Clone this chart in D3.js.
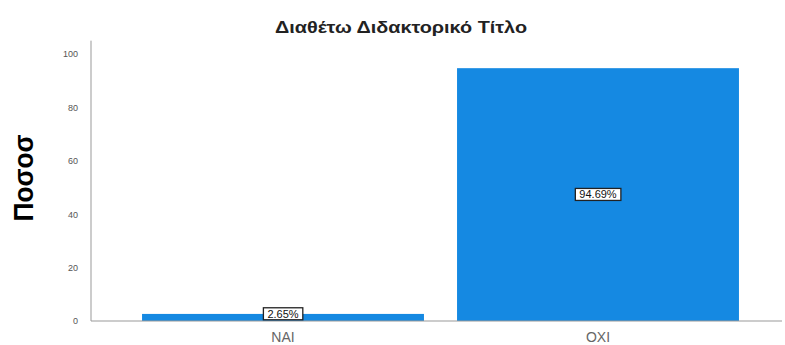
<!DOCTYPE html>
<html lang="en">

<head>
    <meta charset="utf-8">
    <title>Διαθέτω Διδακτορικό Τίτλο</title>
    <script type="text/javascript" src="https://d3js.org/d3.v7.min.js"></script>
    <style type="text/css">
        body {
            margin: 0;
            background: #fff;
        }

        svg text {
            font-family: "Liberation Sans", Arial, sans-serif;
        }
    </style>
</head>

<body>
    <svg width="785" height="345"></svg>
    <script type="text/javascript">
        //Chart data
        const categories = ['NAI', 'OXI']
        const values = [2.65, 94.69]
        const labels = ['2.65%', '94.69%']
        const yTicks = [0, 20, 40, 60, 80, 100]

        const svg = d3.select("svg");
        const barColor = '#1589e2';

        //Scales
        const xScale = d3.scaleBand()
            .domain(categories)
            .range([125.5, 755.5])
            .paddingInner(0.105)
            .paddingOuter(0.0525);

        const yScale = d3.scaleLinear()
            .domain([0, 100])
            .range([321, 54]);

        //Title
        svg.append('text')
            .attr('x', 401)
            .attr('y', 33)
            .attr('text-anchor', 'middle')
            .attr('textLength', 252)
            .attr('lengthAdjust', 'spacingAndGlyphs')
            .style('font-size', '16px')
            .style('font-weight', 'bold')
            .style('fill', '#222')
            .text('Διαθέτω Διδακτορικό Τίτλο');

        //Y axis title
        svg.append('text')
            .attr('transform', 'translate(33,178) rotate(-90)')
            .attr('text-anchor', 'middle')
            .attr('textLength', 87)
            .attr('lengthAdjust', 'spacingAndGlyphs')
            .style('font-size', '28px')
            .style('font-weight', 'bold')
            .style('fill', '#000')
            .text('Ποσοσ');

        //Y axis
        const leftAxis = d3.axisLeft(yScale)
            .tickValues(yTicks)
            .tickSize(0)
            .tickPadding(13);

        svg.append('g')
            .attr('transform', 'translate(91,0)')
            .call(leftAxis)
            .call(g => g.select('.domain').remove())
            .call(g => g.selectAll('.tick text')
                .style('font-size', '9px')
                .style('font-family', '"Liberation Sans", Arial, sans-serif')
                .style('fill', '#555'));

        svg.append('line')
            .attr('x1', 91).attr('x2', 91)
            .attr('y1', yScale(105)).attr('y2', yScale(0))
            .attr('stroke', '#999');

        //Bars
        svg.selectAll('rect.bar')
            .data(values)
            .enter()
            .append('rect')
            .attr('class', 'bar')
            .attr('x', (d, i) => xScale(categories[i]))
            .attr('y', d => yScale(d))
            .attr('width', xScale.bandwidth())
            .attr('height', d => yScale(0) - yScale(d))
            .style('fill', barColor);

        //X axis
        svg.append('line')
            .attr('x1', 91).attr('x2', 782)
            .attr('y1', yScale(0)).attr('y2', yScale(0))
            .attr('stroke', '#999');

        const bottomAxis = d3.axisBottom(xScale)
            .tickSize(0)
            .tickPadding(11);

        svg.append('g')
            .attr('transform', 'translate(0,' + yScale(0) + ')')
            .call(bottomAxis)
            .call(g => g.select('.domain').remove())
            .call(g => g.selectAll('.tick text')
                .style('font-size', '14px')
                .style('font-family', '"Liberation Sans", Arial, sans-serif')
                .style('fill', '#666'));

        //Boxed value labels (small bar: on its top, tall bar: in the middle)
        const labelGroups = svg.selectAll('g.vlabel')
            .data(values)
            .enter()
            .append('g')
            .attr('class', 'vlabel')
            .attr('transform', (d, i) => 'translate(' + (xScale(categories[i]) + xScale.bandwidth() / 2) + ','
                + (d < 10 ? yScale(d) : yScale(d / 2)) + ')');

        labelGroups.append('text')
            .attr('text-anchor', 'middle')
            .attr('dy', '0.35em')
            .style('font-size', '11px')
            .style('fill', '#111')
            .text((d, i) => labels[i]);

        labelGroups.each(function () {
            const g = d3.select(this);
            const bb = g.select('text').node().getBBox();
            g.insert('rect', 'text')
                .attr('x', bb.x - 4)
                .attr('y', bb.y)
                .attr('width', bb.width + 8)
                .attr('height', bb.height)
                .style('fill', '#fff')
                .style('stroke', '#222')
                .style('stroke-width', 1.3);
        });
    </script>
</body>

</html>
